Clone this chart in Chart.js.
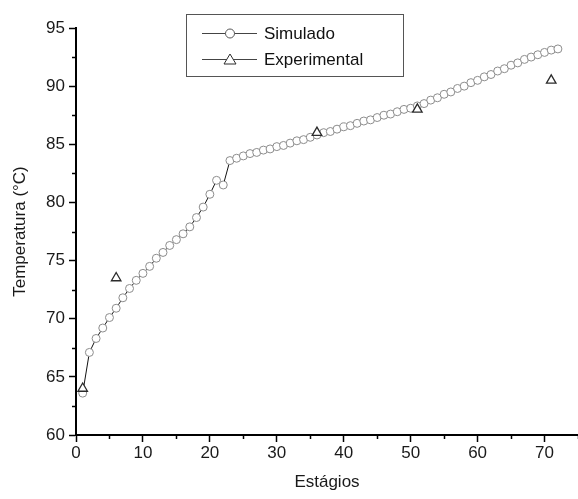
<!DOCTYPE html>
<html>
<head>
<meta charset="utf-8">
<script src="https://cdn.jsdelivr.net/npm/chart.js@4/dist/chart.umd.min.js"></script>
<style>
  html, body { margin: 0; padding: 0; background: #fff; }
  #wrap { width: 578px; height: 499px; position: relative; }
</style>
</head>
<body>
<div id="wrap"><canvas id="temp-chart"></canvas></div>
<script>
// estagios 1..72, valores
var simStages = [];
for (var s = 1; s <= 72; s++) { simStages.push(s); }
var simTemps = [
  63.6, 67.1, 68.3, 69.2, 70.1, 70.9, 71.8, 72.6, 73.3, 73.9,
  74.5, 75.2, 75.7, 76.3, 76.8, 77.3, 77.9, 78.7, 79.6, 80.7,
  81.9, 81.5, 83.6, 83.8, 84.0, 84.2, 84.3, 84.5, 84.6, 84.8,
  84.9, 85.1, 85.3, 85.4, 85.6, 85.8, 86.0, 86.1, 86.3, 86.5,
  86.6, 86.8, 87.0, 87.1, 87.3, 87.5, 87.6, 87.8, 88.0, 88.1,
  88.3, 88.5, 88.8, 89.0, 89.3, 89.5, 89.8, 90.0, 90.3, 90.5,
  90.8, 91.0, 91.3, 91.5, 91.8, 92.0, 92.3, 92.5, 92.7, 92.9,
  93.1, 93.2
];
var expStages = [1, 6, 36, 51, 71];
var expTemps = [64.0, 73.5, 86.0, 88.0, 90.5];

var xTicks = [0, 10, 20, 30, 40, 50, 60, 70];
var xMinorTicks = [5, 15, 25, 35, 45, 55, 65, 75];
var yTicks = [60, 65, 70, 75, 80, 85, 90, 95];
var yMinorTicks = [62.5, 67.5, 72.5, 77.5, 82.5, 87.5, 92.5];

(function () {
  var canvas = document.getElementById('temp-chart');
  var FONT = '"Liberation Sans", Arial, sans-serif';
  var circleColor = '#8c8c8c';
  var triColor = '#2b2b2b';

  function toPoints(xs, ys) {
    return xs.map(function (x, i) { return { x: x, y: ys[i] }; });
  }

  // ticks menores e legenda desenhados a mao
  var extras = {
    id: 'extras',
    afterDraw: function (chart) {
      var ctx = chart.ctx;
      var xs = chart.scales.x;
      var ys = chart.scales.y;
      ctx.save();
      ctx.strokeStyle = '#000';
      ctx.lineWidth = 1.5;
      xMinorTicks.forEach(function (v) {
        var px = Math.round(xs.getPixelForValue(v)) + 0.5;
        ctx.beginPath();
        ctx.moveTo(px, ys.bottom);
        ctx.lineTo(px, ys.bottom + 4);
        ctx.stroke();
      });
      yMinorTicks.forEach(function (v) {
        var py = Math.round(ys.getPixelForValue(v)) + 0.5;
        ctx.beginPath();
        ctx.moveTo(xs.left, py);
        ctx.lineTo(xs.left - 4, py);
        ctx.stroke();
      });

      // legenda
      var bx = 186.5, by = 14.5, bw = 217, bh = 62;
      ctx.strokeStyle = '#555';
      ctx.lineWidth = 1;
      ctx.strokeRect(bx, by, bw, bh);
      var rows = [
        { y: 33, label: chart.data.datasets[1].label, style: 'circle' },
        { y: 59, label: chart.data.datasets[0].label, style: 'triangle' }
      ];
      rows.forEach(function (r) {
        ctx.strokeStyle = '#444';
        ctx.lineWidth = 1;
        ctx.beginPath();
        ctx.moveTo(202, r.y + 0.5);
        ctx.lineTo(257, r.y + 0.5);
        ctx.stroke();
        ctx.fillStyle = '#fff';
        ctx.beginPath();
        if (r.style === 'circle') {
          ctx.strokeStyle = '#555';
          ctx.arc(230, r.y + 0.5, 4.5, 0, Math.PI * 2);
        } else {
          ctx.strokeStyle = triColor;
          ctx.moveTo(230, r.y - 5);
          ctx.lineTo(236, r.y + 5);
          ctx.lineTo(224, r.y + 5);
          ctx.closePath();
        }
        ctx.fill();
        ctx.stroke();
        ctx.fillStyle = '#111';
        ctx.font = '17px ' + FONT;
        ctx.textBaseline = 'middle';
        ctx.textAlign = 'left';
        ctx.fillText(r.label, 264, r.y + 1);
      });
      ctx.restore();
    }
  };

  new Chart(canvas, {
    type: 'scatter',
    data: {
      datasets: [
        {
          label: 'Experimental',
          data: toPoints(expStages, expTemps),
          showLine: false,
          pointStyle: 'triangle',
          pointRadius: 5.5,
          pointBorderWidth: 1.3,
          pointBorderColor: triColor,
          pointBackgroundColor: '#fff',
          order: 0
        },
        {
          label: 'Simulado',
          data: toPoints(simStages, simTemps),
          showLine: true,
          borderColor: '#111',
          borderWidth: 1,
          tension: 0,
          pointStyle: 'circle',
          pointRadius: 4,
          pointBorderWidth: 1,
          pointBorderColor: circleColor,
          pointBackgroundColor: '#fff',
          order: 1
        }
      ]
    },
    options: {
      responsive: true,
      maintainAspectRatio: false,
      animation: false,
      layout: { autoPadding: false, padding: { top: 28, right: 0, bottom: 0, left: 0 } },
      plugins: {
        legend: { display: false },
        tooltip: { enabled: false }
      },
      scales: {
        x: {
          type: 'linear',
          min: 0,
          max: 75,
          afterBuildTicks: function (scale) {
            scale.ticks = xTicks.map(function (v) { return { value: v }; });
          },
          afterFit: function (scale) {
            scale.height = 64;
            scale.paddingRight = 0;
          },
          border: { color: '#000', width: 2 },
          grid: { drawOnChartArea: false, drawTicks: true, tickLength: 7, tickColor: '#000', tickWidth: 1.5 },
          ticks: { color: '#1a1a1a', font: { family: FONT, size: 17 }, padding: 1, maxRotation: 0 },
          title: {
            display: true,
            text: 'Estágios',
            color: '#1a1a1a',
            font: { family: FONT, size: 17 },
            padding: { top: 0, bottom: 6 }
          }
        },
        y: {
          type: 'linear',
          min: 60,
          max: 95,
          afterBuildTicks: function (scale) {
            scale.ticks = yTicks.map(function (v) { return { value: v }; });
          },
          afterFit: function (scale) { scale.width = 76; },
          border: { color: '#000', width: 2 },
          grid: { drawOnChartArea: false, drawTicks: true, tickLength: 7, tickColor: '#000', tickWidth: 1.5 },
          ticks: { color: '#1a1a1a', font: { family: FONT, size: 17 }, padding: 4 },
          title: {
            display: true,
            text: 'Temperatura (°C)',
            color: '#1a1a1a',
            font: { family: FONT, size: 17 },
            padding: { top: 10, bottom: 0 }
          }
        }
      }
    },
    plugins: [extras]
  });
})();
</script>
</body>
</html>
